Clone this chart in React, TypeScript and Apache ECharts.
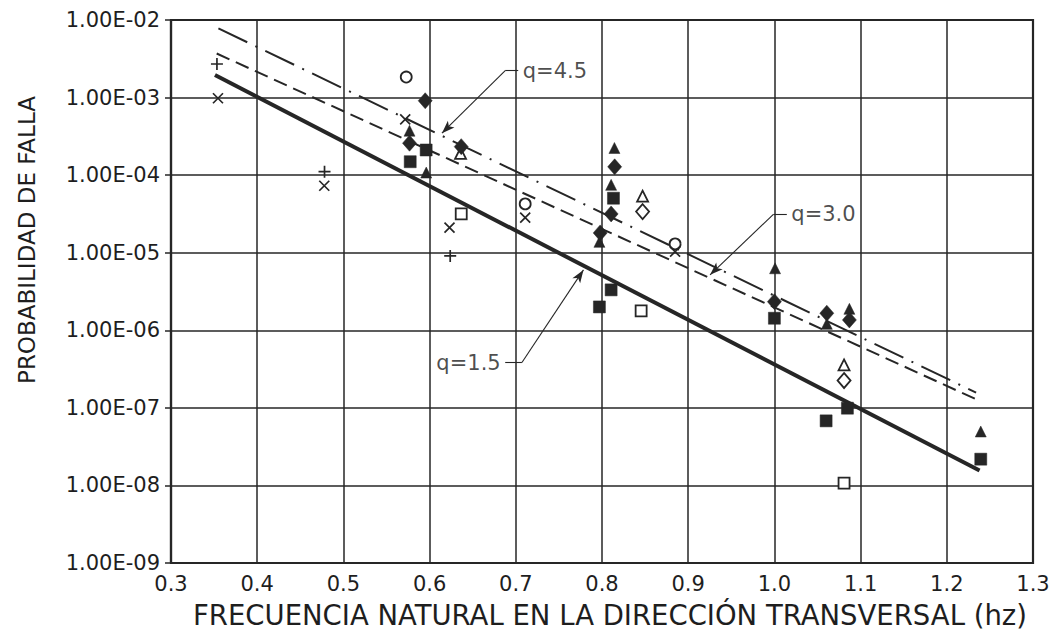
import React, { useEffect, useRef } from "react";
import * as echarts from "echarts";

// ---- data (x: natural frequency in Hz, y: failure probability) ----
const xTickLabels = ["0.3", "0.4", "0.5", "0.6", "0.7", "0.8", "0.9", "1.0", "1.1", "1.2", "1.3"];
const yTickLabels = ["1.00E-09", "1.00E-08", "1.00E-07", "1.00E-06", "1.00E-05", "1.00E-04", "1.00E-03", "1.00E-02"];

const lineQ15 = [[0.351, 1.95e-3], [1.238, 1.56e-8]];
const lineQ30 = [[0.353, 3.7e-3], [1.234, 1.29e-7]];
const lineQ45 = [[0.355, 7.8e-3], [1.234, 1.57e-7]];

const filledSquares = [[0.5775, 1.49e-4], [0.596, 2.11e-4], [0.8133, 5.04e-5], [0.8106, 3.32e-6], [0.797, 2.0e-6], [1.0, 1.43e-6], [1.06, 6.8e-8], [1.0847, 9.9e-8], [1.2394, 2.18e-8]];
const openSquares = [[0.6367, 3.16e-5], [0.8454, 1.78e-6], [1.0808, 1.07e-8]];
const filledTriangles = [[0.5767, 3.74e-4], [0.5961, 1.08e-4], [0.8144, 2.24e-4], [0.8106, 7.5e-5], [0.797, 1.38e-5], [1.0008, 6.3e-6], [1.0608, 1.21e-6], [1.087, 1.89e-6], [1.2394, 4.96e-8]];
const openTriangles = [[0.6359, 1.91e-4], [0.8471, 5.35e-5], [1.0808, 3.58e-7]];
const filledDiamonds = [[0.5949, 9.1e-4], [0.5767, 2.58e-4], [0.6367, 2.33e-4], [0.8147, 1.28e-4], [0.8106, 3.16e-5], [0.7979, 1.8e-5], [1.0, 2.34e-6], [1.0608, 1.66e-6], [1.087, 1.36e-6]];
const openDiamonds = [[0.8471, 3.39e-5], [1.0808, 2.25e-7]];
const openCircles = [[0.5729, 1.84e-3], [0.7109, 4.26e-5], [0.8848, 1.3e-5]];
const crosses = [[0.3545, 9.8e-4], [0.4778, 7.3e-5], [0.5717, 5.25e-4], [0.6231, 2.1e-5], [0.7109, 2.83e-5], [0.8848, 1.03e-5]];
const pluses = [[0.3533, 2.71e-3], [0.4781, 1.11e-4], [0.6239, 9.1e-6]];

// annotation labels and their leader lines: [text anchor, elbow, arrow tip]
const annLabels = ["q=4.5", "q=3.0", "q=1.5"];
const annAnchors = [[0.7028, 2.22e-3], [1.0144, 3.13e-5], [0.6877, 3.84e-7]];
const annElbows = [[0.6877, 2.22e-3], [0.9988, 3.13e-5], [0.7071, 3.84e-7]];
const annTips = [[0.6143, 3.47e-4], [0.9254, 5.18e-6], [0.7785, 6.0e-6]];
const annSides = ["right", "right", "left"];

const INK = "#262626";
const TXT = "#1e1e1e";
const FONT = "DejaVu Sans";

export default function App() {
  const ref = useRef<HTMLDivElement>(null);

  useEffect(() => {
    document.body.style.margin = "0";
    const chart = echarts.init(ref.current!, null, { renderer: "svg" });

    const lineSeries = (name: string, data: number[][], width: number, dash: any) => ({
      name,
      type: "line",
      data,
      showSymbol: false,
      symbol: "none",
      silent: true,
      z: 3,
      lineStyle: { color: INK, width, type: dash },
    });

    const scatter = (name: string, data: number[][], symbol: string, size: any, filled: boolean, z = 5) => ({
      name,
      type: "scatter",
      data,
      symbol,
      symbolSize: size,
      silent: true,
      z,
      itemStyle: filled
        ? { color: INK, borderColor: INK, borderWidth: 0.5, opacity: 1 }
        : { color: "#ffffff", borderColor: INK, borderWidth: 1.8, opacity: 1 },
    });

    const strokeSymbol = (name: string, data: number[][], path: string, size: number) => ({
      name,
      type: "scatter",
      data,
      symbol: path,
      symbolSize: size,
      silent: true,
      z: 5,
      itemStyle: { color: "none", borderColor: INK, borderWidth: 1.7, opacity: 1 },
    });

    const leaderData: any[] = [];
    for (let i = 0; i < annAnchors.length; i++) {
      leaderData.push([
        { coord: annAnchors[i], symbol: "none" },
        { coord: annElbows[i], symbol: "none" },
      ]);
      leaderData.push([
        { coord: annElbows[i], symbol: "none" },
        { coord: annTips[i], symbol: "arrow", symbolSize: [7, 13] },
      ]);
    }

    const annSeries = {
      name: "annotations",
      type: "scatter",
      silent: true,
      z: 6,
      symbol: "circle",
      symbolSize: 1,
      itemStyle: { color: "rgba(0,0,0,0)" },
      data: annAnchors.map((p, i) => ({
        value: p,
        label: {
          show: true,
          position: annSides[i],
          distance: 4,
          formatter: annLabels[i],
          fontFamily: FONT,
          fontSize: 21,
          color: TXT,
        },
      })),
      markLine: {
        silent: true,
        animation: false,
        symbol: ["none", "none"],
        label: { show: false },
        lineStyle: { color: INK, width: 1.1, type: "solid" },
        emphasis: { disabled: true },
        data: leaderData,
      },
    };

    chart.setOption({
      animation: false,
      backgroundColor: "#ffffff",
      grid: {
        left: 171,
        right: 21,
        top: 20,
        bottom: 76,
        show: true,
        borderColor: INK,
        borderWidth: 2.2,
        backgroundColor: "transparent",
      },
      xAxis: {
        type: "value",
        min: 0.3,
        max: 1.3,
        interval: 0.1,
        name: "FRECUENCIA NATURAL EN LA DIRECCIÓN TRANSVERSAL (hz)",
        nameLocation: "middle",
        nameGap: 38,
        nameTextStyle: { fontFamily: FONT, fontSize: 27.5, color: TXT, padding: [0, 0, 0, 16] },
        axisLine: { show: true, lineStyle: { color: INK, width: 2.2 } },
        axisTick: { show: false },
        axisLabel: {
          margin: 10,
          fontFamily: FONT,
          fontSize: 21,
          color: TXT,
          formatter: (v: number) => xTickLabels[Math.round((v - 0.3) / 0.1)] ?? "",
        },
        splitLine: { show: true, lineStyle: { color: INK, width: 1.5 } },
      },
      yAxis: {
        type: "log",
        logBase: 10,
        min: 1e-9,
        max: 1e-2,
        interval: 1,
        splitNumber: 7,
        axisLine: { show: true, lineStyle: { color: INK, width: 2.2 } },
        axisTick: { show: true, length: 6, lineStyle: { color: INK, width: 1.5 } },
        axisLabel: {
          margin: 11,
          fontFamily: FONT,
          fontSize: 21,
          color: TXT,
          formatter: (v: number) => yTickLabels[Math.round(Math.log10(v)) + 9] ?? "",
        },
        splitLine: { show: true, lineStyle: { color: INK, width: 1.5 } },
      },
      graphic: [
        {
          type: "text",
          x: 27,
          y: 240,
          rotation: Math.PI / 2,
          style: {
            text: "PROBABILIDAD DE FALLA",
            fontFamily: FONT,
            fontSize: 23,
            fill: TXT,
            textAlign: "center",
            textVerticalAlign: "middle",
          },
        },
      ],
      series: [
        lineSeries("q=1.5", lineQ15, 4, "solid"),
        lineSeries("q=3.0", lineQ30, 2, [14, 7]),
        lineSeries("q=4.5", lineQ45, 2, [32, 9, 2, 9]),
        scatter("open squares", openSquares, "rect", 11, false),
        scatter("open triangles", openTriangles, "triangle", 11, false),
        scatter("open diamonds", openDiamonds, "diamond", [13, 15], false),
        scatter("open circles", openCircles, "circle", 11, false),
        strokeSymbol("crosses", crosses, "path://M0,0L10,10M10,0L0,10", 10),
        strokeSymbol("pluses", pluses, "path://M5,0L5,10M0,5L10,5", 12),
        scatter("filled triangles", filledTriangles, "triangle", 11, true, 6),
        scatter("filled squares", filledSquares, "rect", 12, true, 6),
        scatter("filled diamonds", filledDiamonds, "diamond", [14, 16], true, 7),
        annSeries,
      ],
    });

    return () => chart.dispose();
  }, []);

  return (
    <div
      ref={ref}
      style={{ position: "absolute", left: 0, top: 0, width: 1054, height: 639, background: "#fff" }}
    />
  );
}
